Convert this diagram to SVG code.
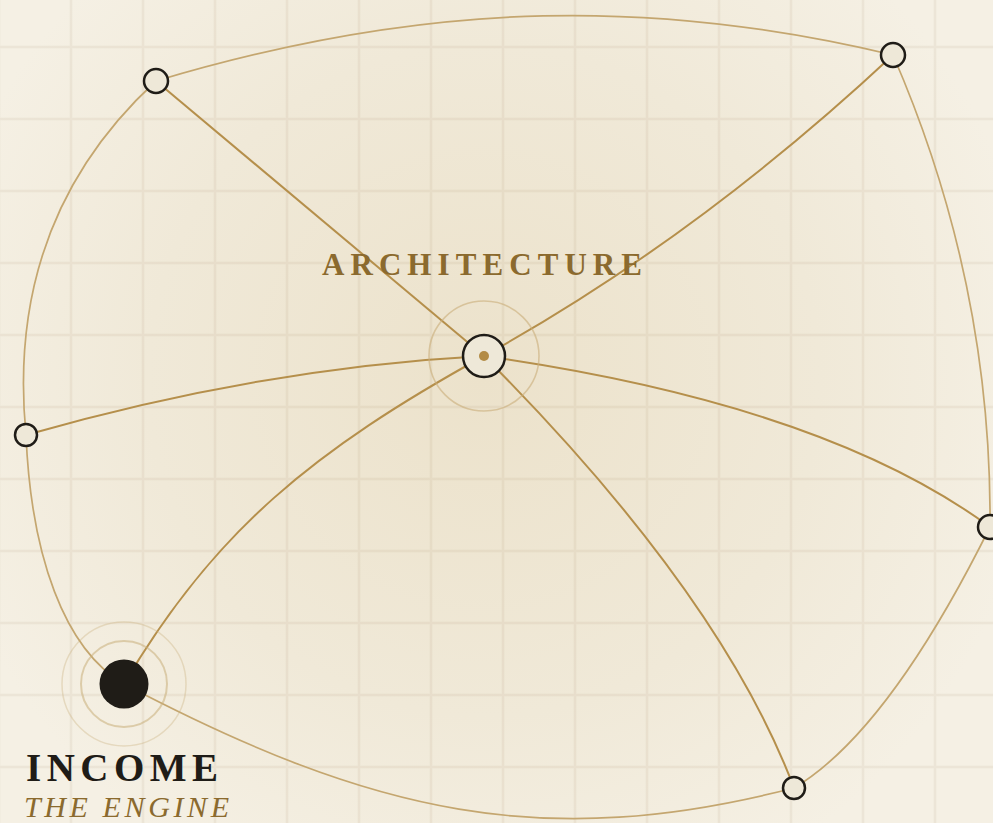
<svg xmlns="http://www.w3.org/2000/svg" width="993" height="823" viewBox="0 0 993 823">
  <defs>
    <radialGradient id="bg" cx="484" cy="380" r="560" gradientUnits="userSpaceOnUse">
      <stop offset="0" stop-color="#ece2cb"/>
      <stop offset="0.6" stop-color="#f0e9d8"/>
      <stop offset="1" stop-color="#f5f0e4"/>
    </radialGradient>
    <style>
      .grid { stroke: #8a6a3a; stroke-opacity: 0.08; stroke-width: 2.5; fill: none; }
      .spoke { fill: none; stroke: #b58f4b; stroke-width: 2; }
      .ring { fill: none; stroke: #c4a66f; stroke-width: 1.7; }
      .node { fill: #eee8d8; stroke: #1f1c17; stroke-width: 2.5; }
      .halo { fill: none; stroke: #c9ae7a; }
      .title { font-family: "Liberation Serif", "DejaVu Serif", serif; font-weight: bold; }
    </style>
  </defs>

  <rect x="0" y="0" width="993" height="823" fill="url(#bg)"/>

  <g id="grid">
    <path class="grid" d="M-1,0V823 M71,0V823 M143,0V823 M215,0V823 M287,0V823 M359,0V823 M431,0V823 M503,0V823 M575,0V823 M647,0V823 M719,0V823 M791,0V823 M863,0V823 M935,0V823
      M0,47H993 M0,119H993 M0,191H993 M0,263H993 M0,335H993 M0,407H993 M0,479H993 M0,551H993 M0,623H993 M0,695H993 M0,767H993"/>
  </g>

  <g id="connectors">
    <path class="ring" d="M156,81 C436,-3 663,0 893,55"/>
    <path class="ring" d="M893,55 Q992,283 990,527"/>
    <path class="ring" d="M990,527 Q888,732 794,788"/>
    <path class="ring" d="M794,788 C544,852 374,815 124,684"/>
    <path class="ring" d="M124,684 C64,649 31,555 26,435"/>
    <path class="ring" d="M26,435 Q5,220 156,81"/>

    <path class="spoke" d="M484,356 L156,81"/>
    <path class="spoke" d="M484,356 Q697,238 893,55"/>
    <path class="spoke" d="M484,356 C334,364 176,392 26,435"/>
    <path class="spoke" d="M484,356 C314,450 214,531 124,684" stroke-width="2.3"/>
    <path class="spoke" d="M484,356 Q823,404 990,527"/>
    <path class="spoke" d="M484,356 Q721,594 794,788"/>
  </g>

  <g id="node-architecture">
    <circle class="halo" cx="484" cy="356" r="55" stroke-width="1.6" stroke-opacity="0.6"/>
    <circle class="node" cx="484" cy="356" r="21" stroke-width="3"/>
    <circle cx="484" cy="356" r="5" fill="#b38b45"/>
    <text class="title" x="322" y="275" font-size="31" fill="#8b6a2e" textLength="320" lengthAdjust="spacing">ARCHITECTURE</text>
  </g>

  <g id="node-income">
    <circle class="halo" cx="124" cy="684" r="62" stroke-width="1.5" stroke-opacity="0.35"/>
    <circle class="halo" cx="124" cy="684" r="43" stroke-width="2" stroke-opacity="0.55"/>
    <circle cx="124" cy="684" r="24.5" fill="#1f1c17"/>
    <text class="title" x="26" y="781" font-size="39" fill="#1f1c17" textLength="192" lengthAdjust="spacing">INCOME</text>
    <text x="24" y="817" font-family="'Liberation Serif', 'DejaVu Serif', serif" font-style="italic" font-size="30" fill="#8b6a2e" textLength="205" lengthAdjust="spacing">THE ENGINE</text>
  </g>

  <g id="node-top-left"><circle class="node" cx="156" cy="81" r="12"/></g>
  <g id="node-top-right"><circle class="node" cx="893" cy="55" r="12"/></g>
  <g id="node-left"><circle class="node" cx="26" cy="435" r="11"/></g>
  <g id="node-right"><circle class="node" cx="990" cy="527" r="12"/></g>
  <g id="node-bottom"><circle class="node" cx="794" cy="788" r="11"/></g>
</svg>
